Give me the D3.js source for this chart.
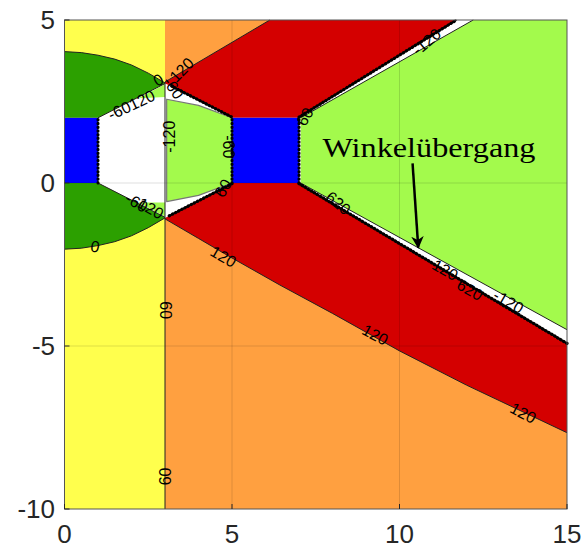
<!DOCTYPE html>
<html>
<head>
<meta charset="utf-8">
<script src="https://cdn.jsdelivr.net/npm/d3@7"></script>
<style>
  body { margin: 0; background: #fff; }
  svg { display: block; font-family: "Liberation Sans", Arial, sans-serif; }
</style>
</head>
<body>
<svg id="chart" width="586" height="548"></svg>
<script>
// axis ticks
const xTicks = [0, 5, 10, 15];
const yTicks = [-10, -5, 0, 5];

// regions, in data units [x, y]
const yellowZone = [[0, -10], [3, -10], [3, 5], [0, 5]];
const orangeZone = [[3, -10], [15, -10], [15, 5], [3, 5]];
const redUpperEdge = [[3, 3.1], [6.13, 5]];
const redLowerEdge = [[3, -1.1], [4, -1.7], [5, -2.3], [6.43, -3.13], [8, -4.0], [10, -5.15], [12, -6.2], [15, -7.66]];
const whiteCore = [[1, 2], [3, 3.05], [3.2, 2.97], [5, 2.0], [7, 2.0], [11.7, 5], [15, 5], [15, -4.92],
                   [7, 0], [5, 0], [3.1, -1.02], [3, -1.07], [1, 0]];
const greenTop = [[0, 4.03], [0.5, 4.0], [1, 3.92], [1.5, 3.8], [2, 3.62], [2.5, 3.37], [3, 3.07]];
const greenTopInner = [[3, 3.05], [1, 2], [0, 2]];
const greenBottom = [[0, -2.03], [0.5, -2.0], [1, -1.92], [1.5, -1.8], [2, -1.62], [2.5, -1.37], [3, -1.07]];
const greenBottomInner = [[3, -1.05], [1, 0], [0, 0]];
const sliverTop = [[2.2, 2.6], [3, 3.03], [3, 2.64]];
const sliverBottom = [[2.2, -0.6], [3, -1.03], [3, -0.6]];
const hexagon = [[3.05, 2.57], [4, 2.38], [5, 2.0], [5, 0], [4, -0.38], [3.05, -0.57]];
const wedge = [[7.05, 2.0], [12.2, 5], [15, 5], [15, -4.5], [7.05, 0]];
const blueBlocks = [[0, 1, 0, 2], [5, 7, 0, 2]];

// contour lines
const jaggedLines = [
  [[3.2, 2.97], [5, 2.02]],
  [[7, 2.02], [11.7, 5]],
  [[7, -0.02], [15, -4.92]],
  [[5, -0.02], [3.1, -1.02]]
];
const beadedLines = [[[1, 0], [1, 2]], [[5, 0], [5, 2]], [[7, 0], [7, 2]]];
const thinLines = [
  [[3, -10], [3, 3.1]],
  greenTop, greenBottom, redUpperEdge, redLowerEdge,
  [[1, 2], [3, 3.05]], [[1, 0], [3, -1.05]],
  [[7.05, 2], [12.2, 5]], [[7.05, 0], [15, -4.5]]
];

// contour labels: text, x, y, angle
const contourLabels = [
  ["0", 2.8, 3.16, -30], ["120", 3.5, 3.47, -45], ["-60", 3.25, 2.92, 55],
  ["-60120", 2.0, 2.39, -25], ["-120", 3.12, 1.42, -90],
  ["-60", 2.15, -0.6, 30], ["-120", 2.5, -0.74, 30],
  ["0", 0.91, -1.95, 10], ["120", 4.74, -2.26, 30], ["60", 4.74, -0.16, -60],
  ["-60", 4.89, 1.11, 90], ["60", 7.18, 2.03, -60], ["620", 8.17, -0.62, 40],
  ["-120", 10.81, 4.33, -40], ["120", 11.36, -2.67, 30], ["620", 12.1, -3.28, 30],
  ["-120", 13.25, -3.64, 30], ["120", 9.27, -4.66, 28], ["120", 13.69, -7.06, 28],
  ["60", 3.0, -3.9, 90], ["60", 3.0, -9.0, -90]
];

const note = "Winkelübergang";
const notePos = [7.7, 0.8];
const arrowFrom = [10.39, 0.6];
const arrowTo = [10.56, -1.98];

const svg = d3.select('#chart');
const x = d3.scaleLinear().domain([0, 15]).range([64.5, 567]);
const y = d3.scaleLinear().domain([-10, 5]).range([509, 20]);
const line = d3.line().x(d => x(d[0])).y(d => y(d[1]));

const plot = svg.append('g');

plot.append('path').attr('d', line(yellowZone) + 'Z').attr('fill', '#ffff4d');
plot.append('path').attr('d', line(orangeZone) + 'Z').attr('fill', '#ffa040');

const redFan = redUpperEdge.concat([[15, 5]], redLowerEdge.slice().reverse());
plot.append('path').attr('d', line(redFan) + 'Z').attr('fill', '#d40000');
plot.append('path').attr('d', line(whiteCore) + 'Z').attr('fill', '#ffffff');

plot.append('path').attr('d', line(greenTop.concat(greenTopInner)) + 'Z').attr('fill', '#2ca000');
plot.append('path').attr('d', line(greenBottom.concat(greenBottomInner)) + 'Z').attr('fill', '#2ca000');

[sliverTop, sliverBottom].forEach(s =>
  plot.append('path').attr('d', line(s) + 'Z').attr('fill', '#a3fa4c'));

plot.append('path').attr('d', line(hexagon) + 'Z')
  .attr('fill', '#a3fa4c').attr('stroke', '#777').attr('stroke-width', 1.2)
  .attr('stroke-linejoin', 'round');
plot.append('path').attr('d', line(wedge) + 'Z').attr('fill', '#a3fa4c');

plot.selectAll('rect.blue')
  .data(blueBlocks)
  .join('rect')
  .attr('class', 'blue')
  .attr('x', d => x(d[0]))
  .attr('y', d => y(d[3]))
  .attr('width', d => x(d[1]) - x(d[0]))
  .attr('height', d => y(d[2]) - y(d[3]))
  .attr('fill', '#0000ff');

// grid
const grid = plot.append('g').attr('stroke', '#000').attr('stroke-opacity', 0.13).attr('stroke-width', 1);
grid.selectAll('.gx').data(xTicks.slice(1, -1)).join('line')
  .attr('x1', d => x(d)).attr('x2', d => x(d)).attr('y1', y(-10)).attr('y2', y(5));
grid.selectAll('.gy').data(yTicks.slice(1, -1)).join('line')
  .attr('y1', d => y(d)).attr('y2', d => y(d)).attr('x1', x(0)).attr('x2', x(15));

// contour lines
plot.selectAll('path.thin').data(thinLines).join('path')
  .attr('class', 'thin').attr('d', line).attr('fill', 'none')
  .attr('stroke', '#222').attr('stroke-width', 1);

plot.selectAll('path.jag').data(jaggedLines).join('path')
  .attr('class', 'jag').attr('d', line).attr('fill', 'none')
  .attr('stroke', '#000').attr('stroke-width', 1.6);
plot.selectAll('path.jagb').data(jaggedLines).join('path')
  .attr('class', 'jagb').attr('d', line).attr('fill', 'none')
  .attr('stroke', '#000').attr('stroke-width', 3.2)
  .attr('stroke-linecap', 'round').attr('stroke-dasharray', '0.5,3');

plot.selectAll('path.bead').data(beadedLines).join('path')
  .attr('class', 'bead').attr('d', line).attr('fill', 'none')
  .attr('stroke', '#000').attr('stroke-width', 3)
  .attr('stroke-linecap', 'round').attr('stroke-dasharray', '0.5,3.2');

// contour labels
plot.selectAll('text.cl').data(contourLabels).join('text')
  .attr('class', 'cl')
  .attr('transform', d => `translate(${x(d[1])},${y(d[2])}) rotate(${d[3]})`)
  .attr('text-anchor', 'middle')
  .attr('dominant-baseline', 'central')
  .attr('font-size', 16)
  .attr('fill', '#000')
  .text(d => d[0]);

// axes box and ticks
const axis = svg.append('g').attr('stroke', '#262626').attr('stroke-width', 1);
axis.append('rect').attr('x', x(0)).attr('y', y(5))
  .attr('width', x(15) - x(0)).attr('height', y(-10) - y(5))
  .attr('fill', 'none').attr('stroke', '#555');
axis.selectAll('.tx').data(xTicks).join('line')
  .attr('x1', d => x(d)).attr('x2', d => x(d)).attr('y1', y(-10)).attr('y2', y(-10) - 5);
axis.selectAll('.ty').data(yTicks).join('line')
  .attr('y1', d => y(d)).attr('y2', d => y(d)).attr('x1', x(0)).attr('x2', x(0) + 5);

svg.append('g').selectAll('text').data(xTicks).join('text')
  .attr('x', d => x(d)).attr('y', 543)
  .attr('text-anchor', 'middle').attr('font-size', 26).attr('fill', '#262626')
  .text(d => d);
svg.append('g').selectAll('text').data(yTicks).join('text')
  .attr('x', 55).attr('y', d => y(d) + 9)
  .attr('text-anchor', 'end').attr('font-size', 26).attr('fill', '#262626')
  .text(d => d);

// annotation
svg.append('defs').append('marker')
  .attr('id', 'head').attr('viewBox', '0 0 10 10').attr('refX', 9).attr('refY', 5)
  .attr('markerWidth', 5).attr('markerHeight', 6).attr('orient', 'auto')
  .append('path').attr('d', 'M0,0L10,5L0,10L3,5Z').attr('fill', '#000');
svg.append('line')
  .attr('x1', x(arrowFrom[0])).attr('y1', y(arrowFrom[1]))
  .attr('x2', x(arrowTo[0])).attr('y2', y(arrowTo[1]))
  .attr('stroke', '#000').attr('stroke-width', 2.5).attr('marker-end', 'url(#head)');
svg.append('text')
  .attr('x', x(notePos[0])).attr('y', y(notePos[1]))
  .attr('font-family', '"Liberation Serif", "DejaVu Serif", serif')
  .attr('font-size', 28).attr('fill', '#000')
  .attr('textLength', 213).attr('lengthAdjust', 'spacingAndGlyphs')
  .text(note);
</script>
</body>
</html>
